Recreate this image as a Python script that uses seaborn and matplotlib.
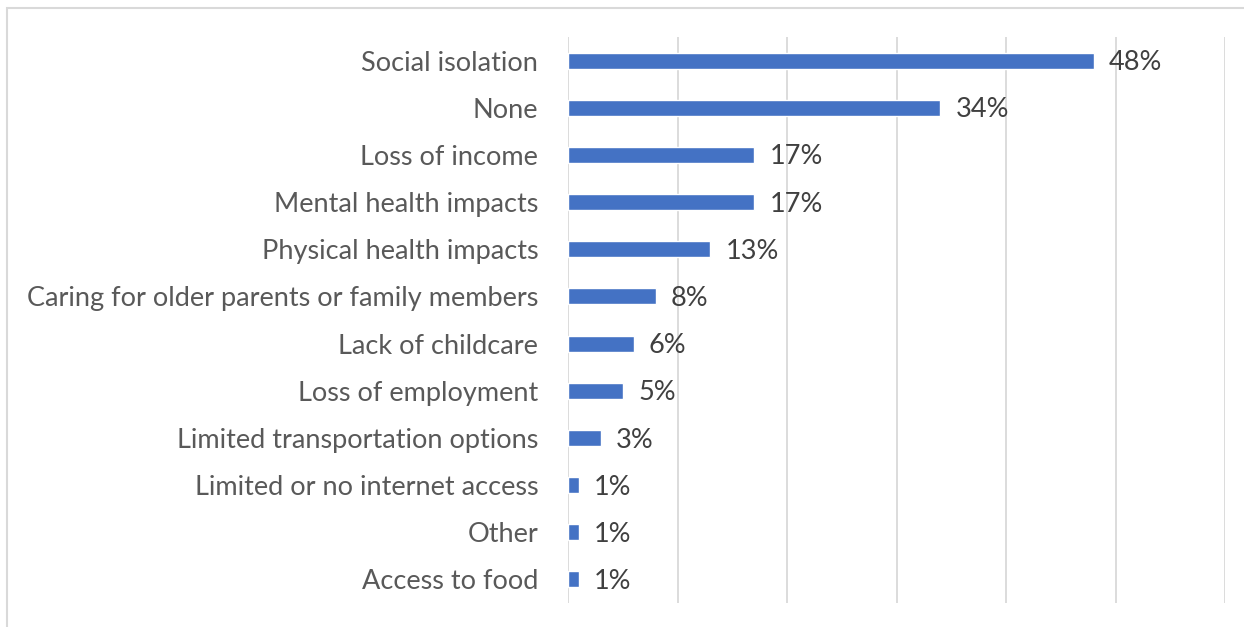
import matplotlib
matplotlib.use("Agg")
import matplotlib.pyplot as plt
import seaborn as sns
import pandas as pd
from matplotlib.patches import Rectangle

categories = [
    "Social isolation", "None", "Loss of income", "Mental health impacts",
    "Physical health impacts", "Caring for older parents or family members",
    "Lack of childcare", "Loss of employment", "Limited transportation options",
    "Limited or no internet access", "Other", "Access to food",
]
values = [48, 34, 17, 17, 13, 8, 6, 5, 3, 1, 1, 1]

sns.set_style("white")
plt.rcParams['font.family'] = ['Lato', 'DejaVu Sans']

df = pd.DataFrame({"category": categories, "value": values})

fig = plt.figure(figsize=(12.44, 6.27), dpi=100)
ax = fig.add_axes([568/1244, 1-603/627, (1225-568)/1244, (603-37)/627])

sns.barplot(data=df, y="category", x="value", orient="h", color="#4472C4",
            width=0.34, saturation=1, ax=ax)

ax.set_xlim(0, 60)
ax.set_xticks(range(0, 61, 10))
ax.xaxis.grid(True, color="#D9D9D9", linewidth=1.3)
ax.set_axisbelow(True)
ax.tick_params(axis="x", bottom=False, labelbottom=False)
ax.tick_params(axis="y", left=False, labelsize=19.5, labelcolor="#595959", pad=18)
for s in ax.spines.values():
    s.set_visible(False)
ax.set_xlabel("")
ax.set_ylabel("")

for c in ax.containers:
    anns = ax.bar_label(c, labels=[f"{v}%" for v in values], padding=11,
                        fontsize=19.5, color="#404040")
    for a in anns:
        a.xyann = (11, -1.5)

fig.patches.append(Rectangle((7/1244, -0.1), 1.2, 1 + 0.1 - 8/627,
                             transform=fig.transFigure, fill=False,
                             edgecolor="#D9D9D9", linewidth=1.5))

fig.savefig("out.png", dpi=100)
